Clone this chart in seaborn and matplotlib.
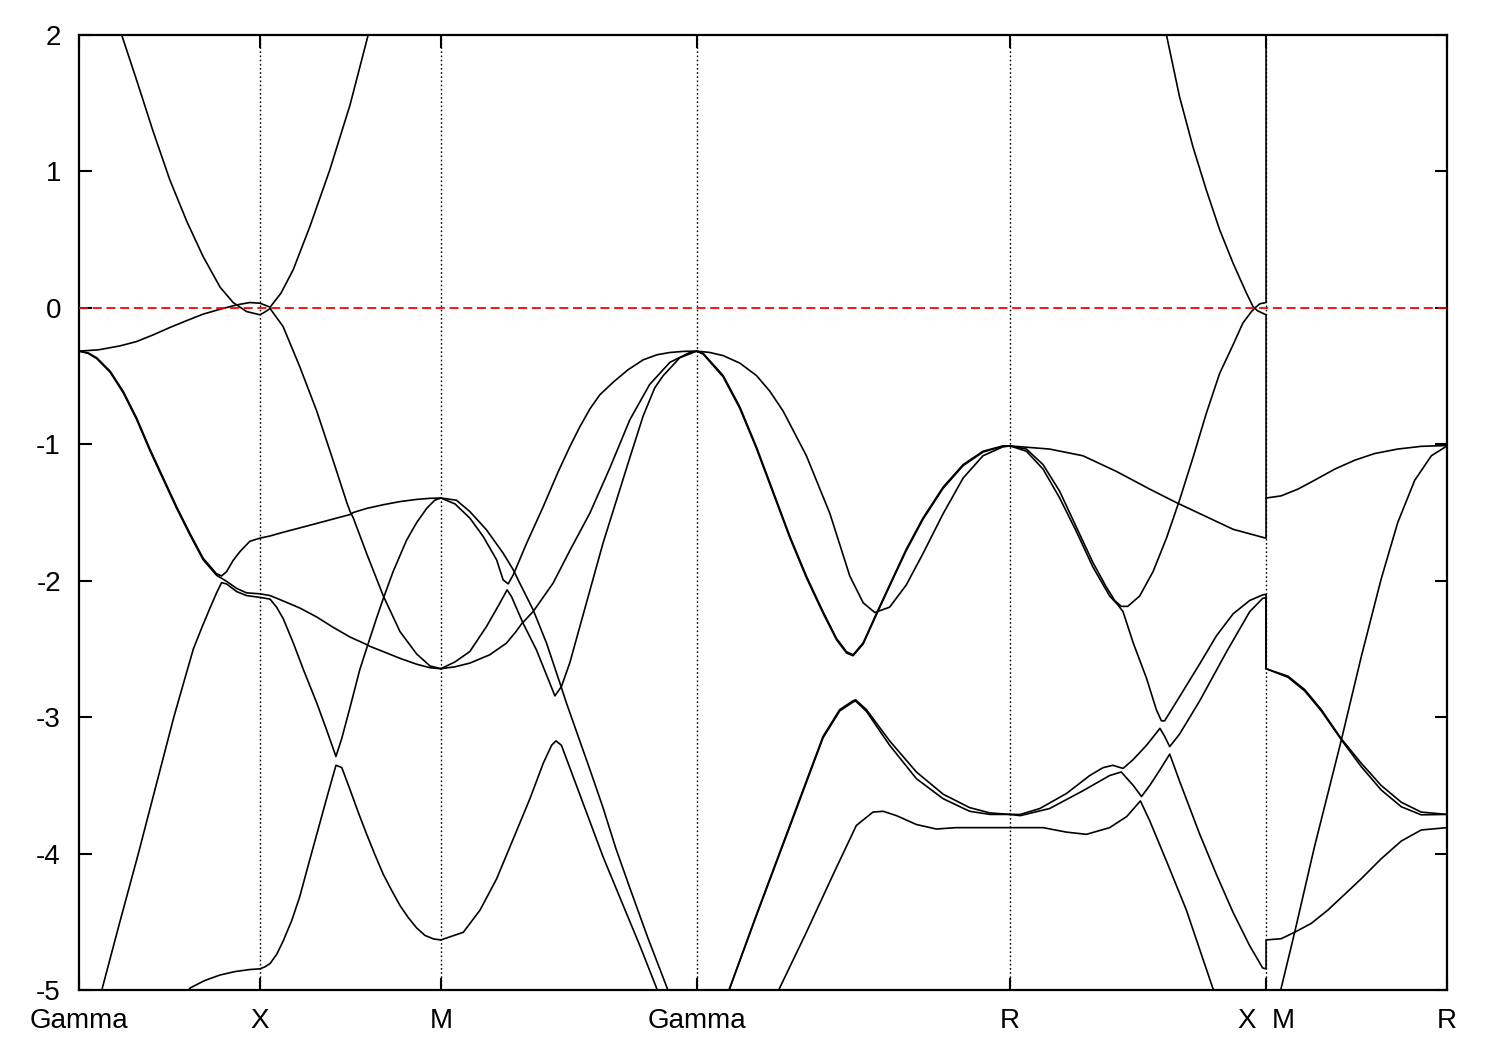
import matplotlib
matplotlib.use("Agg")
import matplotlib.pyplot as plt
import pandas as pd
import seaborn as sns

# ---- high-symmetry path ----
hs_k = [0.0, 0.5, 1.0, 1.7071, 2.5731, 3.2802, 3.7802]
hs_labels = ["Gamma", "X", "M", "Gamma", "R", "X  M", "R"]
y_ticks = [-5, -4, -3, -2, -1, 0, 1, 2]
fermi_level = 0.0

# ---- bands (k in 2pi/a path units, E in eV) ----
c1_k = [0.110, 0.118, 0.159, 0.205, 0.251, 0.298, 0.343, 0.390, 0.426, 0.463, 0.500, 0.514, 0.528, 0.564, 0.610, 0.657, 0.702, 0.740, 0.749, 0.758, 0.795, 0.841, 0.887, 0.933, 0.970, 1.000]
c1_e = [2.10, 2.00, 1.671, 1.292, 0.938, 0.633, 0.376, 0.151, 0.039, -0.027, -0.051, -0.030, -0.005, -0.137, -0.431, -0.757, -1.117, -1.427, -1.492, -1.540, -1.802, -2.112, -2.373, -2.537, -2.625, -2.645]

c2_k = [0.000, 0.053, 0.113, 0.159, 0.205, 0.251, 0.298, 0.343, 0.390, 0.436, 0.472, 0.500, 0.514, 0.528, 0.558, 0.592, 0.638, 0.693, 0.749, 0.799, 0.807]
c2_e = [-0.317, -0.308, -0.279, -0.247, -0.198, -0.144, -0.093, -0.046, -0.010, 0.022, 0.039, 0.034, 0.020, 0.005, 0.107, 0.280, 0.596, 1.011, 1.488, 2.000, 2.080]

c3_k = [0.000, 0.025, 0.049, 0.086, 0.122, 0.159, 0.196, 0.233, 0.270, 0.307, 0.343, 0.380, 0.394, 0.408, 0.426, 0.445, 0.472, 0.500, 0.528, 0.564, 0.610, 0.657, 0.702, 0.749, 0.758, 0.795, 0.841, 0.887, 0.933, 0.970, 1.000]
c3_e = [-0.317, -0.330, -0.366, -0.464, -0.611, -0.806, -1.035, -1.247, -1.459, -1.655, -1.835, -1.949, -1.965, -1.933, -1.851, -1.786, -1.711, -1.688, -1.672, -1.645, -1.613, -1.580, -1.548, -1.515, -1.500, -1.470, -1.443, -1.420, -1.404, -1.396, -1.394]

c4_k = [0.000, 0.025, 0.049, 0.086, 0.122, 0.159, 0.196, 0.233, 0.270, 0.307, 0.343, 0.380, 0.394, 0.408, 0.436, 0.463, 0.500, 0.528, 0.564, 0.610, 0.657, 0.702, 0.749, 0.790, 0.804, 0.841, 0.887, 0.933, 0.970, 1.000]
c4_e = [-0.317, -0.333, -0.372, -0.472, -0.621, -0.817, -1.047, -1.259, -1.471, -1.667, -1.846, -1.960, -1.982, -2.005, -2.057, -2.089, -2.096, -2.109, -2.148, -2.200, -2.266, -2.341, -2.413, -2.462, -2.481, -2.520, -2.569, -2.612, -2.638, -2.645]

c5_k = [0.052, 0.063, 0.113, 0.164, 0.213, 0.262, 0.290, 0.316, 0.340, 0.362, 0.380, 0.394, 0.408, 0.436, 0.463, 0.500, 0.528, 0.546, 0.564, 0.592, 0.620, 0.657, 0.684, 0.710, 0.726, 0.749, 0.776, 0.799, 0.822, 0.841, 0.868, 0.905, 0.933, 0.961, 0.983, 1.000]
c5_e = [-5.10, -5.00, -4.50, -4.00, -3.50, -3.00, -2.74, -2.50, -2.34, -2.20, -2.09, -2.014, -2.024, -2.080, -2.109, -2.122, -2.135, -2.194, -2.276, -2.455, -2.651, -2.896, -3.092, -3.288, -3.157, -2.928, -2.651, -2.462, -2.276, -2.129, -1.933, -1.704, -1.574, -1.469, -1.410, -1.394]

c6_k = [0.293, 0.307, 0.348, 0.390, 0.431, 0.472, 0.500, 0.514, 0.528, 0.546, 0.564, 0.588, 0.610, 0.633, 0.657, 0.684, 0.710, 0.726, 0.749, 0.772, 0.795, 0.818, 0.841, 0.864, 0.887, 0.910, 0.933, 0.956, 0.980, 1.000]
c6_e = [-5.04, -4.985, -4.930, -4.890, -4.865, -4.850, -4.845, -4.830, -4.806, -4.740, -4.642, -4.490, -4.316, -4.090, -3.859, -3.598, -3.353, -3.369, -3.532, -3.700, -3.859, -4.010, -4.153, -4.270, -4.381, -4.470, -4.545, -4.600, -4.626, -4.633]

k1_k = [1.000, 1.043, 1.080, 1.126, 1.172, 1.200, 1.218, 1.255, 1.292, 1.329, 1.347, 1.376, 1.412, 1.448, 1.483, 1.522, 1.572, 1.625, 1.638]
k1_e = [-1.394, -1.410, -1.493, -1.627, -1.798, -1.920, -2.018, -2.214, -2.458, -2.751, -2.897, -3.115, -3.386, -3.663, -3.958, -4.251, -4.618, -4.984, -5.07]

k2_k = [1.000, 1.039, 1.080, 1.117, 1.154, 1.172, 1.186, 1.200, 1.237, 1.283, 1.324, 1.356, 1.384, 1.412, 1.439, 1.476, 1.517, 1.559, 1.597, 1.633, 1.671, 1.7071]
k2_e = [-1.394, -1.437, -1.541, -1.676, -1.847, -1.994, -2.023, -1.957, -1.725, -1.456, -1.202, -1.019, -0.872, -0.740, -0.638, -0.545, -0.454, -0.381, -0.344, -0.327, -0.319, -0.317]

k3_k = [1.000, 1.039, 1.080, 1.126, 1.163, 1.183, 1.195, 1.227, 1.264, 1.301, 1.315, 1.333, 1.356, 1.402, 1.448, 1.483, 1.522, 1.559, 1.591, 1.614, 1.660, 1.7071]
k3_e = [-2.645, -2.595, -2.519, -2.336, -2.164, -2.067, -2.116, -2.311, -2.507, -2.751, -2.844, -2.776, -2.604, -2.164, -1.725, -1.429, -1.099, -0.792, -0.586, -0.498, -0.366, -0.317]

k4_k = [1.000, 1.039, 1.080, 1.135, 1.181, 1.207, 1.223, 1.255, 1.310, 1.356, 1.412, 1.467, 1.522, 1.577, 1.633, 1.688, 1.7071]
k4_e = [-2.645, -2.631, -2.604, -2.543, -2.458, -2.375, -2.316, -2.226, -2.018, -1.781, -1.503, -1.173, -0.821, -0.561, -0.399, -0.327, -0.317]

k5_k = [1.000, 1.062, 1.108, 1.154, 1.200, 1.246, 1.283, 1.306, 1.318, 1.333, 1.356, 1.402, 1.448, 1.504, 1.550, 1.596, 1.605]
k5_e = [-4.633, -4.577, -4.415, -4.185, -3.892, -3.598, -3.337, -3.206, -3.174, -3.206, -3.369, -3.696, -4.023, -4.382, -4.676, -4.986, -5.04]

r1_k = [1.7071, 1.743, 1.780, 1.826, 1.872, 1.909, 1.946, 2.010, 2.075, 2.130, 2.167, 2.199, 2.240, 2.286, 2.332, 2.388, 2.443, 2.498, 2.553, 2.5731]
r1_e = [-0.317, -0.327, -0.350, -0.405, -0.496, -0.611, -0.758, -1.084, -1.508, -1.966, -2.162, -2.233, -2.194, -2.031, -1.802, -1.508, -1.248, -1.084, -1.019, -1.012]

r2_k = [1.7071, 1.725, 1.780, 1.826, 1.872, 1.918, 1.964, 2.010, 2.056, 2.093, 2.121, 2.139, 2.167, 2.203, 2.240, 2.286, 2.332, 2.388, 2.443, 2.498, 2.553, 2.5731]
r2a_e = [-0.317, -0.334, -0.496, -0.725, -1.019, -1.345, -1.672, -1.966, -2.227, -2.422, -2.521, -2.543, -2.455, -2.243, -2.031, -1.769, -1.541, -1.313, -1.149, -1.051, -1.012, -1.012]
r2b_e = [-0.317, -0.340, -0.506, -0.737, -1.031, -1.357, -1.684, -1.978, -2.238, -2.432, -2.530, -2.550, -2.463, -2.252, -2.040, -1.779, -1.551, -1.322, -1.157, -1.057, -1.014, -1.012]

r3_k = [1.790, 1.798, 1.872, 1.964, 2.056, 2.102, 2.139, 2.146, 2.176, 2.240, 2.314, 2.388, 2.461, 2.517, 2.5731]
r3a_e = [-5.04, -4.986, -4.447, -3.794, -3.141, -2.945, -2.880, -2.873, -2.945, -3.174, -3.402, -3.565, -3.663, -3.702, -3.713]
r3b_e = [-5.04, -4.990, -4.455, -3.805, -3.152, -2.955, -2.889, -2.882, -2.958, -3.206, -3.451, -3.598, -3.690, -3.713, -3.713]

r4_k = [1.928, 1.936, 2.010, 2.084, 2.148, 2.194, 2.222, 2.259, 2.314, 2.369, 2.424, 2.498, 2.5731]
r4_e = [-5.04, -4.986, -4.577, -4.153, -3.794, -3.696, -3.690, -3.722, -3.787, -3.820, -3.810, -3.810, -3.810]

s1_k = [2.5731, 2.682, 2.774, 2.866, 2.959, 3.032, 3.097, 3.189, 3.271, 3.2802, 3.2802, 3.322, 3.368, 3.414, 3.470, 3.525, 3.580, 3.644, 3.709, 3.7802]
s1_e = [-1.012, -1.035, -1.084, -1.198, -1.329, -1.427, -1.508, -1.623, -1.682, -1.688, -1.394, -1.378, -1.329, -1.264, -1.182, -1.117, -1.068, -1.035, -1.015, -1.009]

s2_k = [2.5731, 2.618, 2.664, 2.710, 2.756, 2.802, 2.839, 2.862, 2.880, 2.898, 2.931, 2.968, 3.005, 3.041, 3.078, 3.115, 3.152, 3.189, 3.216, 3.240, 3.249, 3.263, 3.2802, 3.2802]
s2_e = [-1.012, -1.035, -1.149, -1.345, -1.607, -1.868, -2.047, -2.145, -2.188, -2.188, -2.112, -1.933, -1.688, -1.410, -1.100, -0.774, -0.480, -0.271, -0.112, -0.027, -0.002, 0.030, 0.039, 2.300]

t_k = [3.000, 3.005, 3.041, 3.078, 3.115, 3.152, 3.189, 3.226, 3.244, 3.257, 3.2802, 3.2802]
t_e = [2.04, 2.00, 1.549, 1.182, 0.865, 0.572, 0.328, 0.108, 0.010, -0.022, -0.051, -1.394]

s3_k = [2.5731, 2.618, 2.664, 2.710, 2.756, 2.802, 2.848, 2.871, 2.885, 2.913, 2.950, 2.977, 2.991, 3.000, 3.041, 3.097, 3.143, 3.189, 3.235, 3.271, 3.2802, 3.2802, 3.341, 3.387, 3.433, 3.488, 3.543, 3.598, 3.654, 3.709, 3.7802]
s3_e = [-1.012, -1.051, -1.182, -1.394, -1.639, -1.901, -2.112, -2.178, -2.227, -2.455, -2.716, -2.945, -3.027, -3.027, -2.851, -2.609, -2.404, -2.243, -2.145, -2.104, -2.100, -2.645, -2.700, -2.798, -2.945, -3.158, -3.337, -3.500, -3.624, -3.696, -3.713]

a_k = [2.5731, 2.601, 2.655, 2.729, 2.793, 2.830, 2.857, 2.885, 2.913, 2.950, 2.987, 3.000, 3.014, 3.041, 3.097, 3.171, 3.235, 3.271, 3.2802, 3.2802, 3.341, 3.387, 3.433, 3.488, 3.543, 3.598, 3.654, 3.709, 3.7802]
a_e = [-3.713, -3.713, -3.670, -3.559, -3.428, -3.370, -3.353, -3.376, -3.311, -3.206, -3.082, -3.141, -3.216, -3.125, -2.880, -2.521, -2.227, -2.129, -2.125, -2.645, -2.708, -2.808, -2.955, -3.165, -3.362, -3.533, -3.657, -3.716, -3.713]

b_k = [2.5731, 2.601, 2.682, 2.774, 2.848, 2.880, 2.913, 2.936, 2.959, 2.987, 3.014, 3.041, 3.097, 3.143, 3.189, 3.235, 3.271, 3.2802, 3.2802, 3.322, 3.359, 3.405, 3.451, 3.497, 3.543, 3.598, 3.654, 3.709, 3.7802]
b_e = [-3.713, -3.722, -3.670, -3.540, -3.428, -3.402, -3.500, -3.582, -3.500, -3.386, -3.271, -3.468, -3.859, -4.153, -4.431, -4.676, -4.839, -4.845, -4.633, -4.624, -4.577, -4.512, -4.414, -4.300, -4.185, -4.039, -3.908, -3.827, -3.810]

g_k = [2.5731, 2.664, 2.729, 2.784, 2.848, 2.895, 2.933, 2.959, 3.005, 3.060, 3.133, 3.141]
g_e = [-3.810, -3.810, -3.843, -3.859, -3.810, -3.729, -3.614, -3.761, -4.055, -4.414, -4.986, -5.04]

v2_k = [3.318, 3.322, 3.359, 3.414, 3.488, 3.543, 3.598, 3.644, 3.691, 3.737, 3.7802]
v2_e = [-5.04, -4.986, -4.58, -3.95, -3.17, -2.56, -1.99, -1.574, -1.264, -1.084, -1.012]

curves = [
    ("c1", c1_k, c1_e), ("c2", c2_k, c2_e), ("c3", c3_k, c3_e), ("c4", c4_k, c4_e),
    ("c5", c5_k, c5_e), ("c6", c6_k, c6_e),
    ("k1", k1_k, k1_e), ("k2", k2_k, k2_e), ("k3", k3_k, k3_e), ("k4", k4_k, k4_e), ("k5", k5_k, k5_e),
    ("r1", r1_k, r1_e), ("r2a", r2_k, r2a_e), ("r2b", r2_k, r2b_e),
    ("r3a", r3_k, r3a_e), ("r3b", r3_k, r3b_e), ("r4", r4_k, r4_e),
    ("s1", s1_k, s1_e), ("s2", s2_k, s2_e), ("t", t_k, t_e), ("s3", s3_k, s3_e),
    ("a", a_k, a_e), ("b", b_k, b_e), ("g", g_k, g_e), ("v2", v2_k, v2_e),
]

rows = []
for name, ks, es in curves:
    n = min(len(ks), len(es))
    if len(ks) != len(es):
        print("length mismatch", name, len(ks), len(es))
    for i in range(n):
        rows.append((name, i, ks[i], es[i]))
df = pd.DataFrame(rows, columns=["band", "idx", "k", "E"])

sns.set_style("ticks")
plt.rcParams["font.family"] = ["Liberation Sans", "DejaVu Sans"]

fig, ax = plt.subplots(figsize=(15, 10.5), dpi=100)
fig.subplots_adjust(left=79 / 1500, right=1447 / 1500, bottom=1 - 990 / 1050, top=1 - 35 / 1050)

for kx in hs_k[1:-1]:
    ax.axvline(kx, color="black", lw=1.0, ls=(0, (1.2, 1.8)), zorder=1)

sns.lineplot(data=df, x="k", y="E", units="band", estimator=None, sort=False,
             color="black", lw=1.2, ax=ax, legend=False, zorder=3)

ax.axhline(fermi_level, color="#ff0000", lw=1.3, ls=(0, (5, 2.6)), zorder=5)

ax.set_xlim(hs_k[0], hs_k[-1])
ax.set_ylim(-5, 2)
ax.set_xticks(hs_k)
ax.set_xticklabels(hs_labels)
ax.set_yticks(y_ticks)
ax.set_yticklabels([str(v) for v in y_ticks])
ax.set_xlabel("")
ax.set_ylabel("")
ax.tick_params(axis="both", direction="in", length=9, width=1.5, top=True, right=True,
               labelsize=20, colors="black")
ax.tick_params(axis="y", pad=13)
ax.tick_params(axis="x", pad=13)
for s in ax.spines.values():
    s.set_linewidth(1.6)
    s.set_color("black")

fig.savefig("out.png", dpi=100, facecolor="white")
